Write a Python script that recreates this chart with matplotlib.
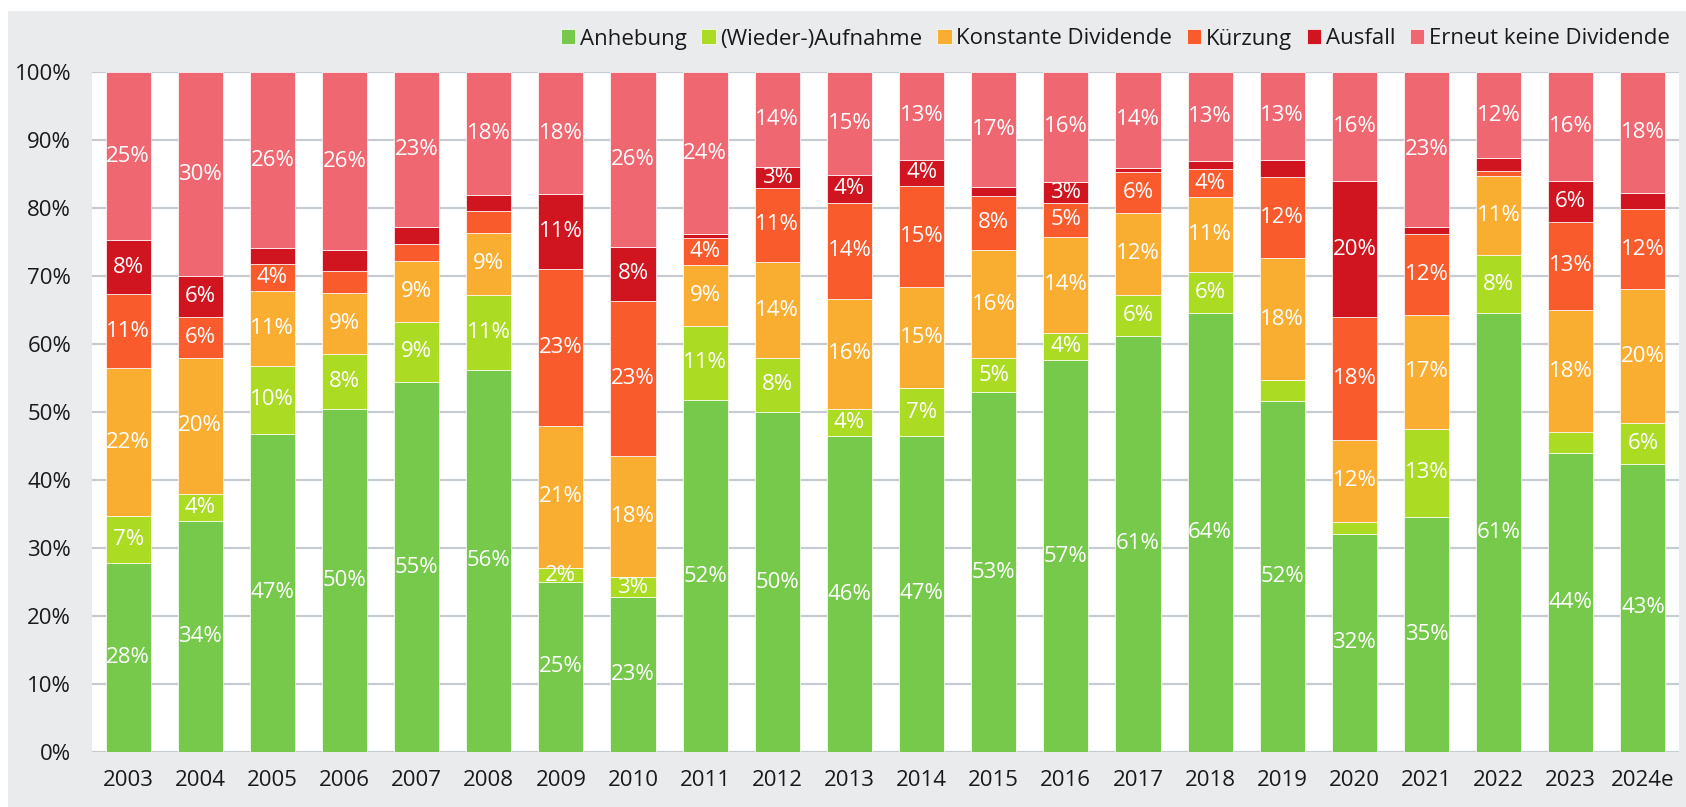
import numpy as np
import matplotlib.pyplot as plt
from matplotlib.patches import Rectangle

plt.rcParams['font.family'] = ['Open Sans', 'DejaVu Sans']

years = ["2003", "2004", "2005", "2006", "2007", "2008", "2009", "2010", "2011", "2012", "2013",
         "2014", "2015", "2016", "2017", "2018", "2019", "2020", "2021", "2022", "2023", "2024e"]

series = ["Anhebung", "(Wieder-)Aufnahme", "Konstante Dividende", "Kürzung", "Ausfall",
          "Erneut keine Dividende"]

anhebung = [28, 34, 47, 50, 55, 56, 25, 23, 52, 50, 46, 47, 53, 57, 61, 64, 52, 32, 35, 61, 44, 43]
aufnahme = [7, 4, 10, 8, 9, 11, 2, 3, 11, 8, 4, 7, 5, 4, 6, 6, 3.1, 1.8, 13, 8, 3.0, 6]
konstant = [22, 20, 11, 9, 9, 9, 21, 18, 9, 14, 16, 15, 16, 14, 12, 11, 18, 12, 17, 11, 18, 20]
kuerzung = [11, 6, 4, 3.1, 2.5, 3.2, 23, 23, 4, 11, 14, 15, 8, 5, 6, 4, 12, 18, 12, 0.7, 13, 12]
ausfall = [8, 6, 2.4, 3.1, 2.6, 2.4, 11, 8, 0.5, 3, 4, 4, 1.2, 3, 0.6, 1.2, 2.6, 20, 1.1, 1.8, 6, 2.4]
erneut = [25, 30, 26, 26, 23, 18, 18, 26, 24, 14, 15, 13, 17, 16, 14, 13, 13, 16, 23, 12, 16, 18]

# segments without a value label in the original (year index, series index)
hidden = {(2, 4), (3, 3), (3, 4), (4, 3), (4, 4), (5, 3), (5, 4), (8, 4), (12, 4), (14, 4),
          (15, 4), (16, 1), (16, 4), (17, 1), (18, 4), (19, 3), (19, 4), (20, 1), (21, 4)}

colors = ["#76c94b", "#acdb23", "#f9ae32", "#fa5b2c", "#d01520", "#ef6770"]

data = np.array([anhebung, aufnahme, konstant, kuerzung, ausfall, erneut], dtype=float)
shares = data / data.sum(axis=0) * 100

fig = plt.figure(figsize=(16.86, 8.07), dpi=100, facecolor="white")
fig.patches.append(Rectangle((8 / 1686, 0), 1, 1 - 11 / 807, transform=fig.transFigure,
                             facecolor="#eaebed", edgecolor="none", zorder=-10))
ax = fig.add_axes([92 / 1686, 55 / 807, (1679 - 92) / 1686, (752 - 72) / 807])
ax.set_facecolor("white")

x = np.arange(len(years))
bottom = np.zeros(len(years))
for i, name in enumerate(series):
    ax.bar(x, shares[i], 0.625, bottom=bottom, color=colors[i], label=name,
           edgecolor="white", linewidth=0.5, zorder=3)
    for j in range(len(years)):
        if (j, i) in hidden:
            continue
        ax.text(x[j], bottom[j] + shares[i, j] / 2, f"{data[i, j]:.0f}%", ha="center",
                va="center", color="white", fontsize=16, zorder=4)
    bottom += shares[i]

ax.set_xlim(-0.5, len(years) - 0.5)
ax.set_ylim(0, 100)
ax.set_yticks(np.arange(0, 101, 10))
ax.set_yticklabels([f"{v}%" for v in range(0, 101, 10)])
ax.set_xticks(x)
ax.set_xticklabels(years)
ax.tick_params(axis="both", length=0, labelsize=16, colors="#1a1a1a")
ax.tick_params(axis="y", pad=15)
ax.tick_params(axis="x", pad=13)
ax.grid(axis="y", color="#c8ccd1", linewidth=1.6, zorder=0)
for s in ax.spines.values():
    s.set_visible(False)

leg = ax.legend(loc="center right", bbox_to_anchor=(1.0, 1 + 33 / 680), ncol=6, frameon=False,
                fontsize=16, handlelength=0.65, handleheight=0.65, handletextpad=0.22,
                columnspacing=0.65, borderaxespad=0)
for t in leg.get_texts():
    t.set_color("#1a1a1a")

fig.savefig("out.png", dpi=100, facecolor=fig.get_facecolor())
